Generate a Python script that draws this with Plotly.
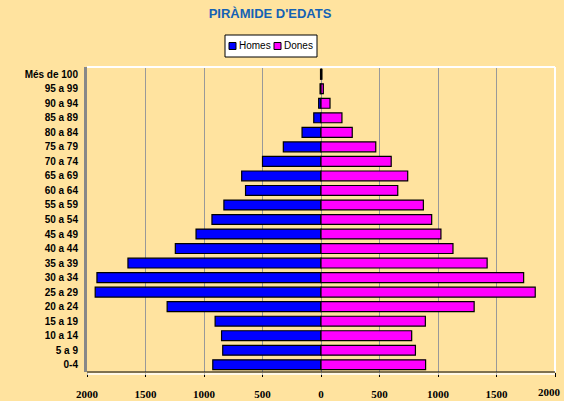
import plotly.graph_objects as go

categories = ["0-4", "5 a 9", "10 a 14", "15 a 19", "20 a 24", "25 a 29", "30 a 34",
              "35 a 39", "40 a 44", "45 a 49", "50 a 54", "55 a 59", "60 a 64", "65 a 69",
              "70 a 74", "75 a 79", "80 a 84", "85 a 89", "90 a 94", "95 a 99", "Més de 100"]
homes = [925, 840, 850, 905, 1315, 1930, 1915, 1650, 1245, 1068, 932, 830, 645, 678,
         500, 322, 162, 62, 20, 8, 4]
dones = [894, 807, 775, 892, 1309, 1831, 1732, 1420, 1128, 1025, 946, 875, 656, 741,
         600, 468, 267, 179, 77, 20, 8]
tick_vals = [-2000, -1500, -1000, -500, 0, 500, 1000, 1500, 2000]
tick_text = ["2000", "1500", "1000", "500", "0", "500", "1000", "1500", "2000"]
series_names = ["Homes", "Dones"]
series_colors = ["#0000FF", "#FF00FF"]

bg = "#FFE39F"
L, R, T, B = 87, 9, 67, 29
W, H = 564, 401
PW, PH = W - L - R, H - T - B


def px(x):
    return (x - L) / PW


def py(y):
    return (H - B - y) / PH


fig = go.Figure()
fig.add_trace(go.Bar(y=categories, x=[-v for v in homes], orientation="h", name=series_names[0],
                     marker=dict(color=series_colors[0], line=dict(color="#000000", width=1.2))))
fig.add_trace(go.Bar(y=categories, x=dones, orientation="h", name=series_names[1],
                     marker=dict(color=series_colors[1], line=dict(color="#000000", width=1.2))))

tick_font = dict(family="Liberation Serif, Times New Roman, serif", size=11, color="#000000")

fig.update_layout(
    width=W, height=H,
    paper_bgcolor=bg, plot_bgcolor=bg,
    barmode="relative", bargap=0.32,
    margin=dict(l=L, r=R, t=T, b=B, autoexpand=False),
    title=dict(text="<b>PIRÀMIDE D'EDATS</b>", x=270 / W, xanchor="center", y=1 - 13 / H,
               yanchor="middle", font=dict(family="Liberation Sans, Arial", size=13, color="#1462B4")),
    showlegend=False,
    xaxis=dict(range=[-2000, 2000], tickvals=tick_vals,
               ticktext=[("<b>" + t + "</b>") if i < len(tick_text) - 1 else "" for i, t in enumerate(tick_text)],
               showgrid=True, gridcolor="#999999", gridwidth=1, zeroline=False,
               showline=False, automargin=False,
               ticks="outside", ticklen=4, tickcolor="#000000", tickangle=0,
               ticklabelstandoff=8, tickfont=tick_font),
    yaxis=dict(showgrid=False, showline=True, linecolor="#888888", linewidth=3,
               ticks="", automargin=False,
               tickfont=dict(family="Liberation Sans, Arial", size=10, color="#000000"),
               categoryorder="array", categoryarray=categories, ticklabelstandoff=4,
               tickprefix="<b>", ticksuffix="</b>"),
    font=dict(family="Liberation Sans, Arial"),
)

# last tick label, kept inside the chart edge
fig.add_annotation(text="<b>" + tick_text[-1] + "</b>", xref="paper", yref="paper", x=px(563),
                   y=py(392), xanchor="right", yanchor="middle", showarrow=False, font=tick_font)

# plot wall edges
fig.add_shape(type="line", xref="paper", yref="paper", x0=0, x1=1, y0=1, y1=1,
              line=dict(color="#FFFFFF", width=2))
fig.add_shape(type="line", xref="paper", yref="paper", x0=1, x1=1, y0=0, y1=1,
              line=dict(color="#FFFFFF", width=2))
fig.add_shape(type="line", xref="paper", yref="paper", x0=0, x1=1, y0=py(374), y1=py(374),
              line=dict(color="#FFFFFF", width=1.5))
fig.add_shape(type="line", xref="paper", yref="paper", x0=0, x1=1, y0=0, y1=0,
              line=dict(color="#000000", width=1.2))

# legend box
fig.add_shape(type="rect", xref="paper", yref="paper", x0=px(225), x1=px(317), y0=py(57), y1=py(35),
              line=dict(color="#000000", width=1), fillcolor="#FFFFFF")
for i, (name, col) in enumerate(zip(series_names, series_colors)):
    sx = 229 + i * 45
    fig.add_shape(type="rect", xref="paper", yref="paper", x0=px(sx), x1=px(sx + 7),
                  y0=py(49.5), y1=py(42.5), line=dict(color="#000000", width=1), fillcolor=col)
    fig.add_annotation(text=name, xref="paper", yref="paper", x=px(sx + 8), y=py(46),
                       xanchor="left", yanchor="middle", showarrow=False,
                       font=dict(family="Liberation Sans, Arial", size=10, color="#000000"))

fig.write_html("out.html", config={"displayModeBar": False},
               post_script="document.body.style.margin='0';document.body.style.background='" + bg + "';")
